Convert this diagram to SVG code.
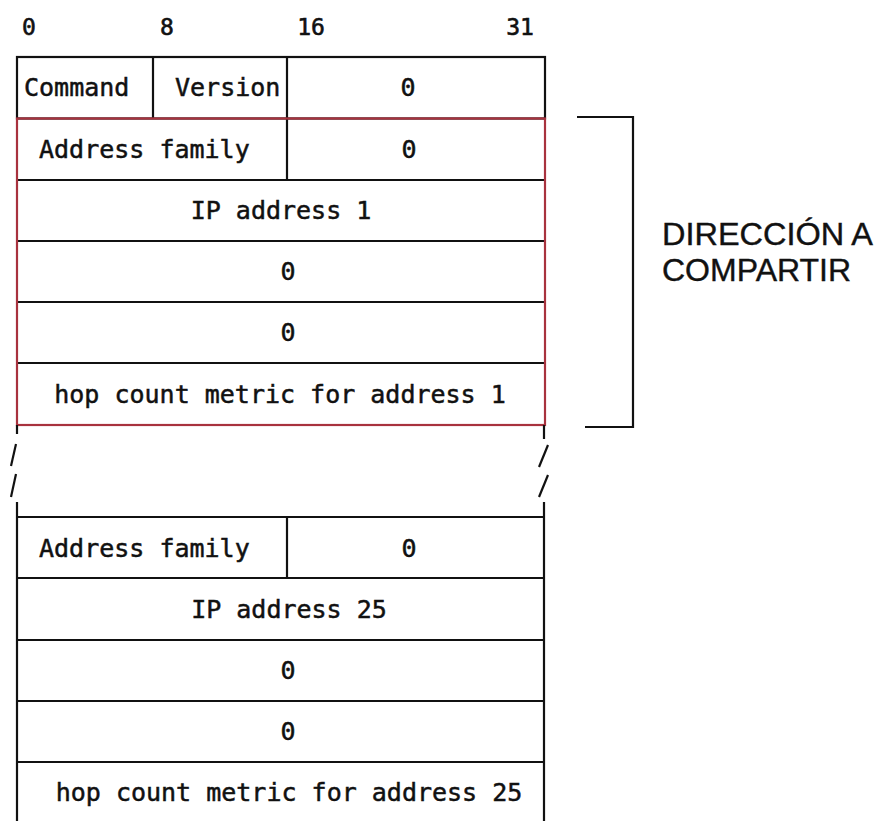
<svg xmlns="http://www.w3.org/2000/svg" width="875" height="821" viewBox="0 0 875 821">
<style>
.ln{stroke:#111;stroke-width:2.2;fill:none}
.red{stroke:#a8323e;stroke-width:2.2;fill:none}
.t{font-family:"DejaVu Sans Mono","Liberation Mono",monospace;font-size:25px;fill:#111;stroke:#111;stroke-width:0.5}
.h{font-family:"DejaVu Sans Mono","Liberation Mono",monospace;font-size:23px;fill:#111;stroke:#111;stroke-width:0.6}
.m{text-anchor:middle}
.lab{font-family:"Liberation Sans",Arial,sans-serif;font-size:32px;fill:#111;stroke:#111;stroke-width:0.4}
</style>
<rect width="875" height="821" fill="#fff"/>
<g id="header">
<text class="h m" x="29" y="35">0</text>
<text class="h m" x="167" y="35">8</text>
<text class="h m" x="311" y="35">16</text>
<text class="h m" x="520" y="35">31</text>
</g>
<g id="row-command">
<rect class="ln" x="17" y="57" width="528" height="61.5"/>
<line class="ln" x1="153" y1="57" x2="153" y2="118"/>
<line class="ln" x1="287" y1="57" x2="287" y2="118"/>
<text class="t" x="24" y="96">Command</text>
<text class="t" x="175" y="96">Version</text>
<text class="t m" x="408" y="96">0</text>
</g>
<g id="entry1">
<line class="ln" x1="17" y1="180" x2="545" y2="180"/>
<line class="ln" x1="17" y1="241" x2="545" y2="241"/>
<line class="ln" x1="17" y1="302" x2="545" y2="302"/>
<line class="ln" x1="17" y1="363" x2="545" y2="363"/>
<line class="ln" x1="287" y1="118" x2="287" y2="180"/>
<rect class="red" x="17" y="118.5" width="528" height="306.5"/>
<text class="t" x="39" y="158">Address family</text>
<text class="t m" x="409" y="158">0</text>
<text class="t m" x="281" y="219">IP address 1</text>
<text class="t m" x="288" y="280">0</text>
<text class="t m" x="288" y="341">0</text>
<text class="t m" x="280" y="403">hop count metric for address 1</text>
</g>
<g id="gap">
<line class="ln" x1="17" y1="425" x2="17" y2="434"/>
<line class="ln" x1="16" y1="444" x2="11" y2="466"/>
<line class="ln" x1="16" y1="474" x2="11" y2="497"/>
<line class="ln" x1="17" y1="502" x2="17" y2="517"/>
<line class="ln" x1="544" y1="425" x2="544" y2="439"/>
<line class="ln" x1="548" y1="445" x2="539" y2="467"/>
<line class="ln" x1="548" y1="475" x2="539" y2="497"/>
<line class="ln" x1="544" y1="502" x2="544" y2="517"/>
</g>
<g id="entry25">
<line class="ln" x1="17" y1="517" x2="17" y2="821"/>
<line class="ln" x1="544" y1="517" x2="544" y2="821"/>
<line class="ln" x1="17" y1="517" x2="544" y2="517"/>
<line class="ln" x1="17" y1="578" x2="544" y2="578"/>
<line class="ln" x1="17" y1="640" x2="544" y2="640"/>
<line class="ln" x1="17" y1="701" x2="544" y2="701"/>
<line class="ln" x1="17" y1="762" x2="544" y2="762"/>
<line class="ln" x1="287" y1="517" x2="287" y2="578"/>
<text class="t" x="39" y="557">Address family</text>
<text class="t m" x="409" y="557">0</text>
<text class="t m" x="289" y="618">IP address 25</text>
<text class="t m" x="288" y="679">0</text>
<text class="t m" x="288" y="740">0</text>
<text class="t m" x="289" y="801">hop count metric for address 25</text>
</g>
<g id="bracket">
<polyline class="ln" points="577,117 633,117 633,427 585,427"/>
<text class="lab" x="662" y="245" textLength="211" lengthAdjust="spacingAndGlyphs">DIRECCIÓN A</text>
<text class="lab" x="662" y="281">COMPARTIR</text>
</g>
</svg>
